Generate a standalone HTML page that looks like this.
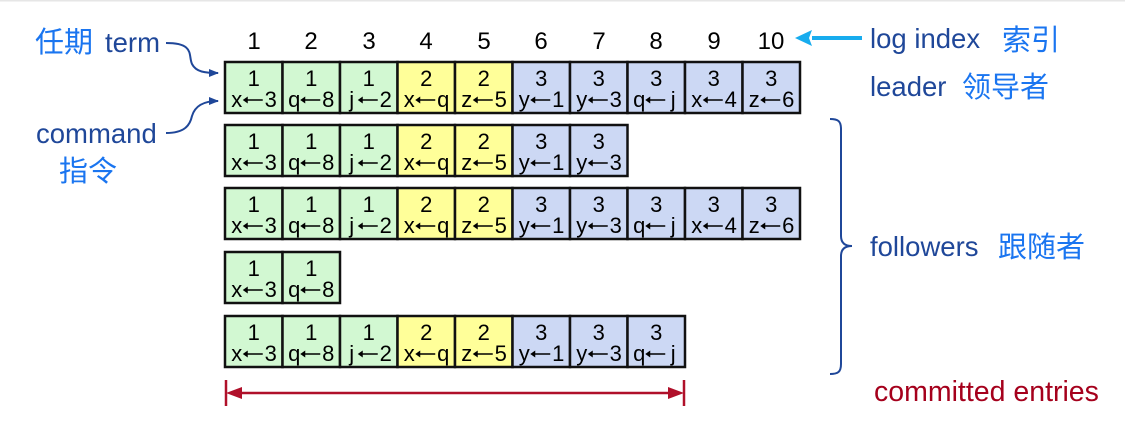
<!DOCTYPE html>
<html><head><meta charset="utf-8"><style>
html,body{margin:0;padding:0;background:#fff;width:1125px;height:424px;overflow:hidden}
svg{display:block}
.c{font-family:"Liberation Sans",sans-serif;font-size:22px;fill:#000;text-anchor:middle}
.en{font-family:"Liberation Sans",sans-serif;font-size:27.5px;fill:#1f4799}
.zh{font-family:"Liberation Sans","Noto Sans CJK SC",sans-serif;font-size:29px;fill:#1a75f0}
</style></head><body>
<svg width="1125" height="424" viewBox="0 0 1125 424" xmlns="http://www.w3.org/2000/svg">
<defs>
<marker id="ab" markerWidth="10" markerHeight="8" refX="9" refY="4" orient="auto" markerUnits="userSpaceOnUse"><path d="M0,0 L10,4 L0,8 Z" fill="#1f4799"/></marker>
</defs>
<rect x="0" y="0" width="1125" height="1.5" fill="#e6e6e6"/>
<g class="c" style="font-size:24px">
<text x="254" y="49">1</text><text x="311" y="49">2</text><text x="369" y="49">3</text><text x="426" y="49">4</text><text x="484" y="49">5</text><text x="541" y="49">6</text><text x="599" y="49">7</text><text x="656" y="49">8</text><text x="714" y="49">9</text><text x="771" y="49">10</text>
</g>
<g id="rows"></g>
<text class="zh" x="35" y="52">任期</text><text class="en" x="105" y="52">term</text>
<text class="en" x="36" y="143">command</text>
<text class="zh" x="59" y="181">指令</text>
<path d="M166,43 C195,43 188,55 192,64 C196,72 205,73 218,73" fill="none" stroke="#1f4799" stroke-width="2" marker-end="url(#ab)"/>
<path d="M166,133 C185,133 190,125 192,116 C195,106 203,101 218,101" fill="none" stroke="#1f4799" stroke-width="2" marker-end="url(#ab)"/>
<path d="M862,38 L812,38" stroke="#18acee" stroke-width="4"/>
<path d="M795,38 L812,30 L809,38 L812,46 Z" fill="#18acee"/>
<text class="en" x="870" y="48">log index</text><text class="zh" x="1002" y="50">索引</text>
<text class="en" x="870" y="96">leader</text><text class="zh" x="962" y="97">领导者</text>
<path d="M830,119 C838,119 841,121 841,129 L841,236 C841,243 845,246 852,246 C845,246 841,249 841,256 L841,364 C841,372 838,374 830,374" fill="none" stroke="#1f4799" stroke-width="2"/>
<text class="en" x="870" y="256">followers</text><text class="zh" x="998" y="257">跟随者</text>
<text class="en" x="874" y="401" style="fill:#a5001c;font-size:28.5px">committed entries</text>
<g stroke="#b0102a" stroke-width="2.5"><line x1="226" y1="380" x2="226" y2="406"/><line x1="684" y1="380" x2="684" y2="406"/><line x1="238" y1="393" x2="672" y2="393"/></g>
<path d="M226,393 L242,387 L242,399 Z M684,393 L668,387 L668,399 Z" fill="#b0102a"/>
</svg>
<script>
var T=[1,1,1,2,2,3,3,3,3,3];
var C=[["x","3"],["q","8"],["j","2"],["x","q"],["z","5"],["y","1"],["y","3"],["q","j"],["x","4"],["z","6"]];
var col={1:"#d2f8d2",2:"#ffff99",3:"#ccd8f4"};
var rows=[[62,10],[125,7],[188,10],[252,2],[316,8]];
var g=document.getElementById("rows"),s="";
rows.forEach(function(r){var y=r[0];for(var i=0;i<r[1];i++){var x=225+i*57.5,cx=x+28.75;
s+='<rect x="'+x+'" y="'+y+'" width="57.5" height="51" fill="'+col[T[i]]+'" stroke="#111" stroke-width="2.5"/>';
s+='<text class="c" x="'+cx+'" y="'+(y+24)+'">'+T[i]+'</text>';
s+='<text class="c" x="'+(cx-17)+'" y="'+(y+45)+'">'+C[i][0]+'</text>';
s+='<text class="c" x="'+(cx+17)+'" y="'+(y+45)+'">'+C[i][1]+'</text>';
s+='<line x1="'+(cx-8)+'" y1="'+(y+38)+'" x2="'+(cx+9)+'" y2="'+(y+38)+'" stroke="#000" stroke-width="1.6"/>';
s+='<path d="M'+(cx-11)+','+(y+38)+' l5,-3.5 l0,7 z" fill="#000"/>';}});
g.innerHTML=s;
</script>
</body></html>
